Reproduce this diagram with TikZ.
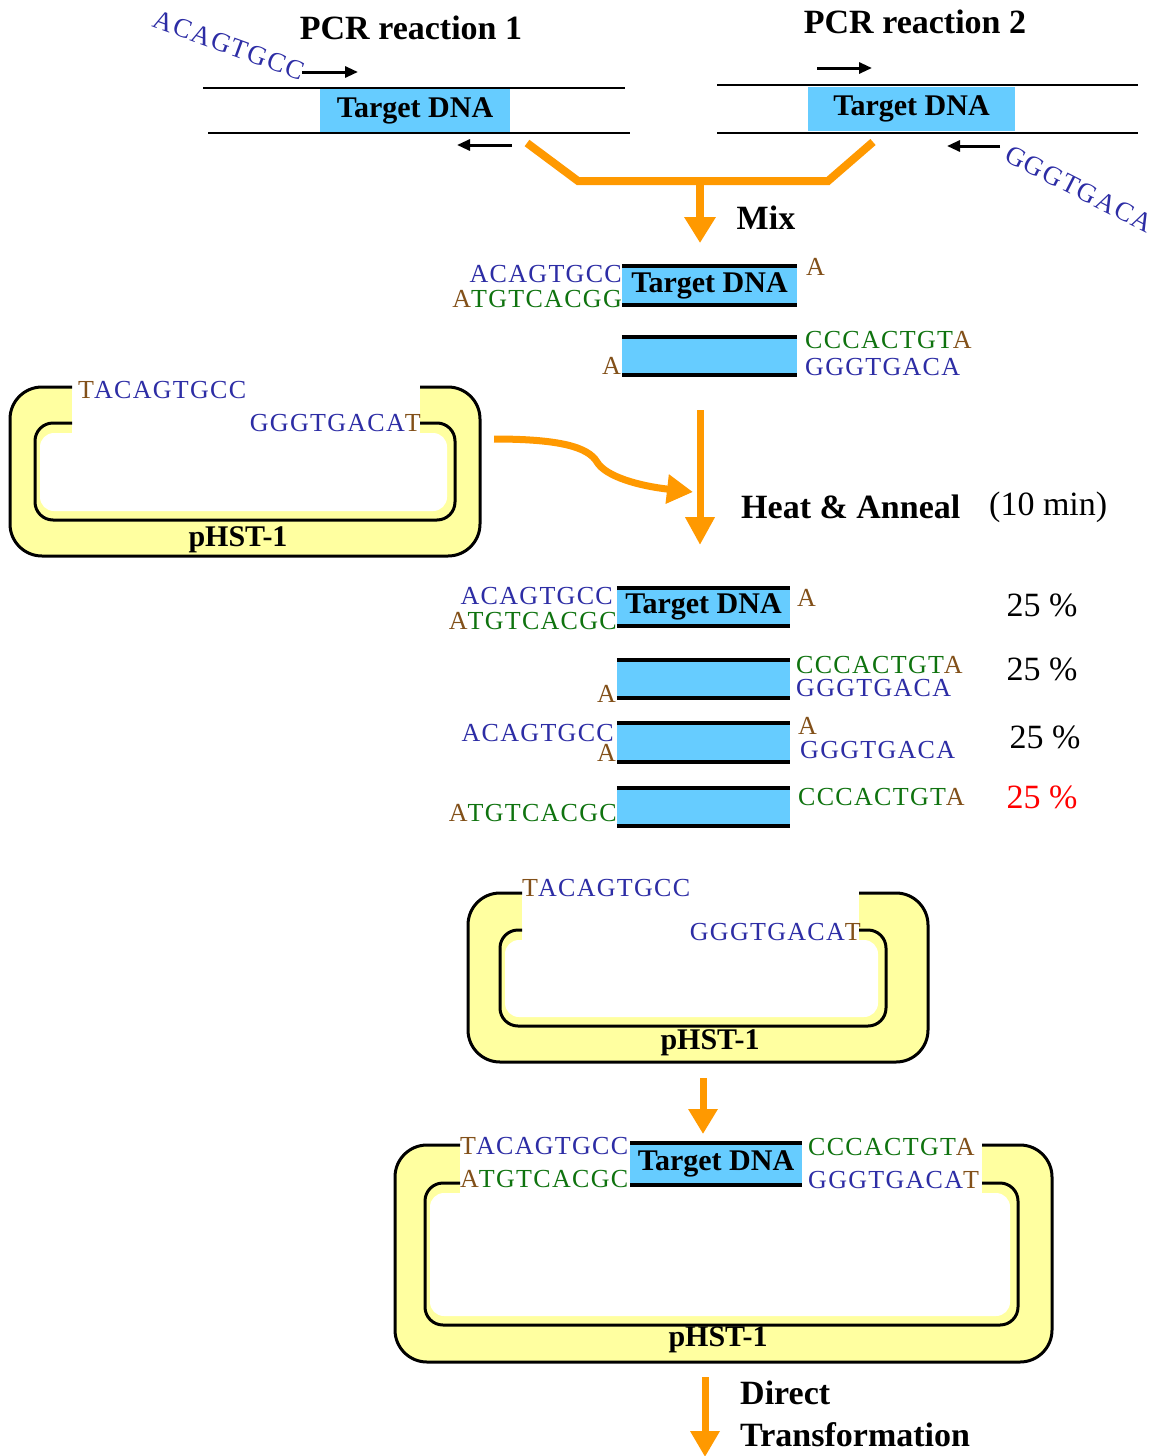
\documentclass[tikz,border=0pt]{standalone}
\usepackage{fontspec}
\setmainfont{Liberation Serif}
\newfontfamily\seqfont[LetterSpace=5]{Liberation Serif}
\usetikzlibrary{arrows.meta}
\definecolor{sqblue}{RGB}{45,45,165}
\definecolor{sqgreen}{RGB}{15,115,15}
\definecolor{sqbrown}{RGB}{130,80,25}
\definecolor{dnacyan}{RGB}{102,204,255}
\definecolor{arrorange}{RGB}{255,153,0}
\definecolor{plyellow}{RGB}{255,255,160}
\newcommand{\sqb}[1]{\textcolor{sqblue}{#1}}
\newcommand{\sqg}[1]{\textcolor{sqgreen}{#1}}
\newcommand{\sqn}[1]{\textcolor{sqbrown}{#1}}
\tikzset{
  lbl/.style={font=\fontsize{34}{38}\selectfont\bfseries, inner sep=0pt},
  plain/.style={font=\fontsize{34}{38}\selectfont, inner sep=0pt},
  seq/.style={font=\seqfont\fontsize{26}{28}\selectfont, inner sep=0pt},
  seqrot/.style={font=\seqfont\fontsize{27}{29}\selectfont, inner sep=0pt, text=sqblue},
  plab/.style={font=\fontsize{30}{32}\selectfont\bfseries, inner sep=0pt},
  tgtbox/.style={fill=dnacyan, inner sep=0pt, font=\fontsize{30}{32}\selectfont\bfseries},
  strand/.style={draw=black, line width=2.5pt},
  boxline/.style={draw=black, line width=3.5pt},
  pborder/.style={draw=black, line width=3pt},
  oline/.style={draw=arrorange, line width=8pt},
  oarrow/.style={draw=arrorange, line width=8pt, -{Triangle[width=30pt,length=26pt]}},
  parrow/.style={draw=black, line width=3pt, -{Triangle[width=11pt,length=13pt]}},
}
% plasmid: outer L,T,R,B ; inner L,T,R,B ; gap from \gL to \gR
\newcommand{\plasmid}[8]{%
  \fill[plyellow, rounded corners=32pt] (#1,#2) rectangle (#3,#4);
  \fill[white, rounded corners=14pt] (#5+5,#6+10) rectangle (#7-8,#8-9);
  \fill[white] (\gL,#2-3) rectangle (\gR,#6+12);
  \draw[pborder, rounded corners=32pt] (\gL,#2) -- (#1,#2) -- (#1,#4) -- (#3,#4) -- (#3,#2) -- (\gR,#2);
  \draw[pborder, rounded corners=18pt] (\gL,#6) -- (#5,#6) -- (#5,#8) -- (#7,#8) -- (#7,#6) -- (\gR,#6);
}
\newcommand{\dnalines}[1]{%
  \draw[boxline] (#1.north west) -- (#1.north east);
  \draw[boxline] (#1.south west) -- (#1.south east);
}
\begin{document}
\begin{tikzpicture}[x=1pt,y=-1pt]
\fill[white] (0,0) rectangle (1151,1456);
\clip (0,0) rectangle (1151,1456);

% ---------- PCR reactions ----------
\node[lbl] (pcr1) at (411,28) {PCR reaction 1};
\node[lbl] (pcr2) at (915,22) {PCR reaction 2};

\node[tgtbox, minimum width=190pt, minimum height=43pt] (t1) at (415,110.5) {Target DNA};
\draw[strand] (203,88) -- (625,88);
\draw[strand] (208,133) -- (630,133);
\coordinate (f1s) at (302,72); \coordinate (f1e) at (358,72);
\coordinate (r1s) at (512,145); \coordinate (r1e) at (457,145);
\draw[parrow] (f1s) -- (f1e);
\draw[parrow] (r1s) -- (r1e);
\node[seqrot, rotate=-20] (pr1) at (229,45) {ACAGTGCC};

\node[tgtbox, minimum width=207pt, minimum height=44pt] (t2) at (911.5,109) {Target DNA};
\draw[strand] (717,85) -- (1138,85);
\draw[strand] (717,133) -- (1138,133);
\coordinate (f2s) at (817,68); \coordinate (f2e) at (872,68);
\coordinate (r2s) at (1000,146); \coordinate (r2e) at (947,146);
\draw[parrow] (f2s) -- (f2e);
\draw[parrow] (r2s) -- (r2e);
\node[seqrot, rotate=-27] (pr2) at (1079,189) {GGGTGACA};

% merge + mix arrow
\coordinate (m0) at (527,143); \coordinate (mA) at (578,181);
\coordinate (mB) at (828,181); \coordinate (m3) at (873,142);
\coordinate (mixtop) at (700,181); \coordinate (mixtip) at (700,243);
\draw[oline] (m0) -- (mA) -- (mB) -- (m3);
\draw[oarrow] (mixtop) -- (mixtip);
\node[lbl] (mix) at (766,218) {Mix};

% ---------- after mixing ----------
\node[tgtbox, minimum width=175pt, minimum height=39pt] (mx1) at (709.5,285.5) {Target DNA};
\dnalines{mx1}
\node[seq, anchor=east] (mx1a) at (622,274) {\sqb{ACAGTGCC}};
\node[seq, anchor=east] (mx1b) at (622,299) {\sqn{A}\sqg{TGTCACGG}};
\node[seq, anchor=west] (mx1c) at (806,267) {\sqn{A}};

\node[tgtbox, minimum width=175pt, minimum height=38pt] (mx2) at (709.5,356) {};
\dnalines{mx2}
\node[seq, anchor=west] (mx2a) at (805,340) {\sqg{CCCACTGT}\sqn{A}};
\node[seq, anchor=west] (mx2b) at (805,367) {\sqb{GGGTGACA}};
\node[seq, anchor=east] (mx2c) at (621,366) {\sqn{A}};

% ---------- left plasmid ----------
\def\gL{72}\def\gR{420}
\plasmid{10}{387}{480}{556}{35}{423}{455}{520}
\node[seq, anchor=west] (lp1) at (78,390) {\sqn{T}\sqb{ACAGTGCC}};
\node[seq, anchor=east] (lp2) at (421,423) {\sqb{GGGTGACA}\sqn{T}};
\node[plab] (lpl) at (238,540) {pHST-1};

% heat & anneal
\coordinate (ha1) at (700,410); \coordinate (ha2) at (700,545);
\draw[oarrow, line width=7pt, -{Triangle[width=28pt,length=28pt]}] (ha1) -- (ha2);
\coordinate (cv1) at (494,439); \coordinate (cv2) at (693,492);
\draw[oarrow, line width=7pt, -{Triangle[width=28pt,length=26pt]}] (cv1) .. controls (560,439) and (588,447) .. (597,462) .. controls (606,477) and (640,486) .. (cv2);
\node[lbl, anchor=west] (heat) at (741,507) {Heat \& Anneal};
\node[plain, anchor=west] (ten) at (989,507) {(10 min)};

% ---------- annealed products ----------
\node[tgtbox, minimum width=173pt, minimum height=38pt] (rw1) at (703.5,607) {Target DNA};
\dnalines{rw1}
\node[seq, anchor=east] (rw1a) at (613,596) {\sqb{ACAGTGCC}};
\node[seq, anchor=east] (rw1b) at (617,621) {\sqn{A}\sqg{TGTCACGC}};
\node[seq, anchor=west] (rw1c) at (797,598) {\sqn{A}};
\node[plain] (pc1) at (1042,605) {25 \%};

\node[tgtbox, minimum width=173pt, minimum height=38pt] (rw2) at (703.5,679) {};
\dnalines{rw2}
\node[seq, anchor=west] (rw2a) at (796,665) {\sqg{CCCACTGT}\sqn{A}};
\node[seq, anchor=west] (rw2b) at (796,688) {\sqb{GGGTGACA}};
\node[seq, anchor=east] (rw2c) at (616,694) {\sqn{A}};
\node[plain] (pc2) at (1042,669) {25 \%};

\node[tgtbox, minimum width=173pt, minimum height=39pt] (rw3) at (703.5,742.5) {};
\dnalines{rw3}
\node[seq, anchor=east] (rw3a) at (614,733) {\sqb{ACAGTGCC}};
\node[seq, anchor=east] (rw3b) at (616,753) {\sqn{A}};
\node[seq, anchor=west] (rw3c) at (798,726) {\sqn{A}};
\node[seq, anchor=west] (rw3d) at (800,750) {\sqb{GGGTGACA}};
\node[plain] (pc3) at (1045,737) {25 \%};

\node[tgtbox, minimum width=173pt, minimum height=38pt] (rw4) at (703.5,807) {};
\dnalines{rw4}
\node[seq, anchor=east] (rw4a) at (617,813) {\sqn{A}\sqg{TGTCACGC}};
\node[seq, anchor=west] (rw4b) at (798,797) {\sqg{CCCACTGT}\sqn{A}};
\node[plain, text=red] (pc4) at (1042,797) {25 \%};

% ---------- middle plasmid ----------
\def\gL{522}\def\gR{859}
\plasmid{468}{893}{928}{1062}{500}{930}{886}{1026}
\node[seq, anchor=west] (mp1) at (522,888) {\sqn{T}\sqb{ACAGTGCC}};
\node[seq, anchor=east] (mp2) at (861,932) {\sqb{GGGTGACA}\sqn{T}};
\node[plab] (mpl) at (710,1043) {pHST-1};

\coordinate (lg1) at (703,1078); \coordinate (lg2) at (703,1134);
\draw[oarrow, line width=7pt, -{Triangle[width=28pt,length=25pt]}] (lg1) -- (lg2);

% ---------- bottom plasmid with insert ----------
\def\gL{460}\def\gR{982}
\plasmid{395}{1145}{1052}{1362}{425}{1183}{1018}{1325}
\node[tgtbox, minimum width=172pt, minimum height=42pt] (ins) at (716,1164) {Target DNA};
\dnalines{ins}
\node[seq, anchor=west] (bp1) at (460,1146) {\sqn{T}\sqb{ACAGTGCC}};
\node[seq, anchor=west] (bp2) at (460,1179) {\sqn{A}\sqg{TGTCACGC}};
\node[seq, anchor=west] (bp3) at (808,1147) {\sqg{CCCACTGT}\sqn{A}};
\node[seq, anchor=west] (bp4) at (808,1180) {\sqb{GGGTGACA}\sqn{T}};
\node[plab] (bpl) at (718,1340) {pHST-1};

\coordinate (tf1) at (705,1377); \coordinate (tf2) at (705,1457);
\draw[oarrow, line width=7pt, -{Triangle[width=28pt,length=26pt]}] (tf1) -- (tf2);
\node[lbl, anchor=west] (dir) at (740,1393) {Direct};
\node[lbl, anchor=west] (trf) at (740,1435) {Transformation};
\end{tikzpicture}
\end{document}
